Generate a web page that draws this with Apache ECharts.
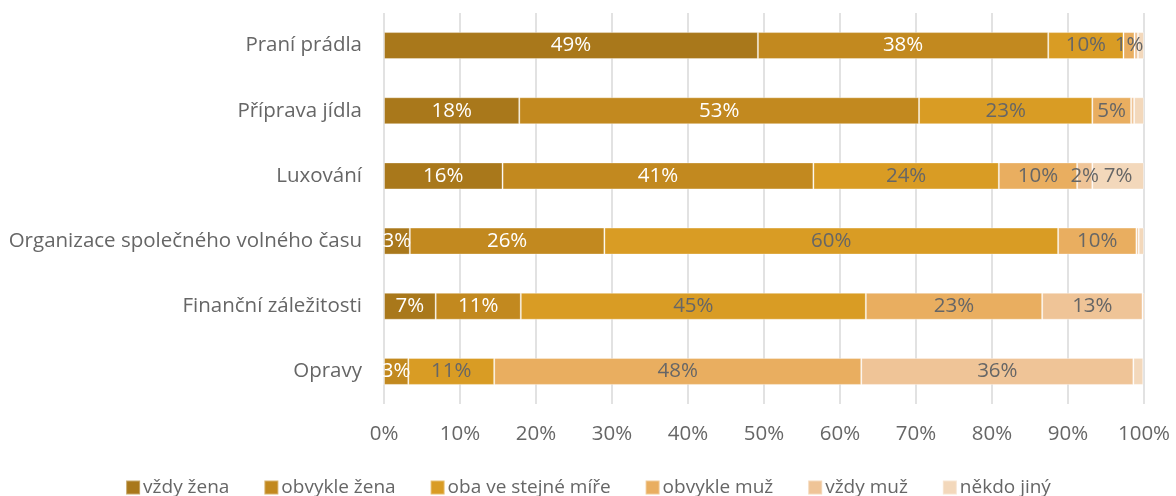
<!DOCTYPE html>
<html>
<head>
<meta charset="utf-8">
<script src="https://cdn.jsdelivr.net/npm/echarts@6/dist/echarts.min.js"></script>
<style>
  html, body { margin: 0; padding: 0; background: #fff; }
  #chart { width: 1176px; height: 496px; }
</style>
</head>
<body>
<div id="chart"></div>
<script>
// categories (top to bottom)
const categories = ['Praní prádla', 'Příprava jídla', 'Luxování',
  'Organizace společného volného času', 'Finanční záležitosti', 'Opravy'];

// shares in %, one array per answer
const vzdyZena     = [49.2, 17.8, 15.6, 3.4, 6.8, 0];
const obvykleZena  = [38.2, 52.6, 40.9, 25.6, 11.2, 3.2];
const obaStejne    = [9.9, 22.8, 24.4, 59.7, 45.4, 11.3];
const obvykleMuz   = [1.45, 5.1, 10.3, 10.3, 23.2, 48.3];
const vzdyMuz      = [0.45, 0.4, 2.0, 0.3, 13.2, 35.8];
const nekdoJiny    = [0.8, 1.3, 6.8, 0.7, 0.4, 1.3];

const seriesNames = ['vždy žena', 'obvykle žena', 'oba ve stejné míře',
  'obvykle muž', 'vždy muž', 'někdo jiný'];
const seriesData = [vzdyZena, obvykleZena, obaStejne, obvykleMuz, vzdyMuz, nekdoJiny];
const colors = ['#a9781b', '#c2891f', '#d99c24', '#e9ae60', '#efc497', '#f3d8bb'];
const labelColors = ['#ffffff', '#ffffff', '#666666', '#666666', '#666666', '#666666'];

const font = '"Open Sans", "Noto Sans", sans-serif';

let chart = echarts.init(document.getElementById('chart'));

let series = seriesNames.map(function (name, i) {
  return {
    name: name,
    type: 'bar',
    stack: 'total',
    barWidth: 27,
    data: seriesData[i],
    itemStyle: {
      color: colors[i],
      borderColor: 'rgba(255,255,255,0.35)',
      borderWidth: 1
    },
    label: {
      show: true,
      position: 'inside',
      color: labelColors[i],
      fontFamily: font,
      fontSize: 20.5,
      formatter: function (p) {
        return p.value >= 1.45 ? Math.round(p.value) + '%' : '';
      }
    },
    emphasis: { disabled: true }
  };
});

let option = {
  animation: false,
  color: colors,
  grid: {
    left: 384,
    right: 32,
    top: 13,
    height: 391
  },
  legend: {
    data: seriesNames,
    left: 'center',
    top: 473,
    icon: 'rect',
    itemWidth: 14,
    itemHeight: 14,
    itemGap: 34,
    textStyle: { color: '#666', fontSize: 19, fontFamily: font, padding: [0, 0, 0, -2] }
  },
  xAxis: {
    type: 'value',
    min: 0,
    max: 100,
    interval: 10,
    axisLine: { show: false },
    axisTick: { show: false },
    axisLabel: {
      formatter: '{value}%',
      color: '#666',
      fontSize: 20.5,
      fontFamily: font,
      margin: 20
    },
    splitLine: { lineStyle: { color: '#e2e2e2', width: 2 } }
  },
  yAxis: {
    type: 'category',
    inverse: true,
    data: categories,
    axisLine: { show: false },
    axisTick: { show: false },
    axisLabel: {
      color: '#666',
      fontSize: 20.5,
      fontFamily: font,
      margin: 22
    }
  },
  series: series
};

chart.setOption(option);
</script>
</body>
</html>
